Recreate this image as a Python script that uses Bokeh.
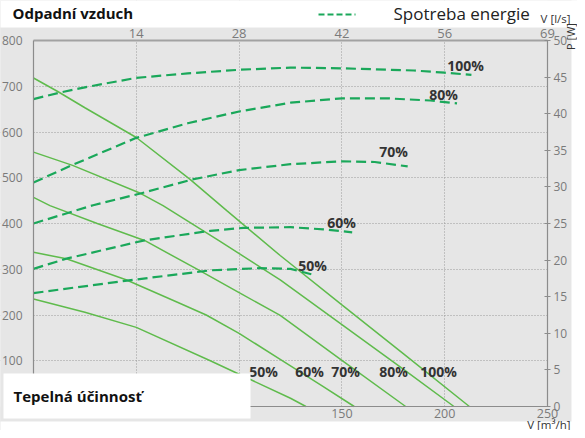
import math
from bokeh.plotting import figure
from bokeh.models import Range1d, LinearAxis, FixedTicker, Label, BoxAnnotation, Arrow
from bokeh.embed import file_html
from bokeh.resources import INLINE

# ---- data: fan pressure curves (Pa) vs airflow (m3/h) ----
s100_x = [0, 12, 25, 50, 76, 94, 120, 150, 180, 212]
s100_y = [718, 688, 653, 588, 497, 428, 330, 222, 115, 0]
s80_x = [0, 19, 52, 63, 90, 120, 150, 180, 204.5]
s80_y = [556, 527, 466, 439, 363, 277, 179, 81, 0]
s70_x = [0, 8, 31, 54, 80, 100, 120, 150, 181]
s70_y = [457, 439, 400, 363, 299, 249, 199, 101, 0]
s60_x = [0, 16, 45, 70, 84, 100, 120, 140, 156]
s60_y = [337, 323, 277, 228, 200, 160, 103, 46, 0]
s50_x = [0, 25, 50, 86, 105, 125, 132.5]
s50_y = [235, 206, 173, 100, 60, 18, 0]

# ---- data: power consumption (W) vs airflow (m3/h) ----
d100_x = [0, 13, 25, 50, 75, 100, 125, 150, 185, 200, 213]
d100_y = [42.0, 42.9, 43.6, 44.9, 45.5, 46.0, 46.3, 46.2, 45.9, 45.6, 45.3]
d80_x = [0, 19, 50, 75, 100, 125, 150, 172, 193, 206]
d80_y = [30.6, 33.0, 36.7, 38.7, 40.3, 41.5, 42.1, 42.1, 41.8, 41.4]
d70_x = [0, 29, 52, 77, 100, 125, 150, 166, 182]
d70_y = [25.0, 27.5, 29.1, 31.0, 32.3, 33.1, 33.5, 33.4, 32.8]
d60_x = [0, 16, 54, 86, 102, 125, 141, 155]
d60_y = [18.8, 20.2, 22.7, 24.0, 24.4, 24.5, 24.2, 23.8]
d50_x = [0, 45.5, 86, 110, 125, 136]
d50_y = [15.5, 17.2, 18.6, 18.9, 18.8, 18.0]

speed_labels = ["50%", "60%", "70%", "80%", "100%"]
power_labels = ["100%", "80%", "70%", "60%", "50%"]
bottom_ticks = [0, 50, 100, 150, 200, 250]
top_tick_labels = ["14", "28", "42", "56", "69"]
left_ticks = [0, 100, 200, 300, 400, 500, 600, 700, 800]
right_ticks = [0, 5, 10, 15, 20, 25, 30, 35, 40, 45, 50]

# ---- layout geometry (canvas pixels) ----
W, H = 577, 430
L, R, T, B = 33, 547, 40, 406
XMAX, YMAX, WMAX = 250, 800, 50
SX = (R - L) / XMAX
SY = (B - T) / YMAX
SW = (B - T) / WMAX


def dx(cx):
    return (cx - L) / SX


def dy(cy):
    return (B - cy) / SY


def dw(cy):
    return (B - cy) / SW


GRAY = "#e6e6e6"
SOLID = "#5fbb4c"
DASH = "#1aa85a"
TICKC = "#7a7a7a"
AXC = "#8c8c8c"
FONT = "Open Sans"

p = figure(width=W, height=H,
           x_range=Range1d(dx(0), dx(W)), y_range=Range1d(dy(H), dy(0)),
           output_backend="svg", toolbar_location=None,
           min_border_left=0, min_border_right=0, min_border_top=0, min_border_bottom=0,
           background_fill_color=GRAY, border_fill_color=GRAY, outline_line_color=None)
p.title.visible = False
p.extra_y_ranges = {"w": Range1d(dw(H), dw(0))}


def style_axis(ax, size, standoff, tin=0, tout=0, lw=1.2, lc=AXC):
    ax.major_tick_in = tin
    ax.major_tick_out = tout
    ax.major_tick_line_color = lc
    ax.minor_tick_line_color = None
    ax.axis_line_color = lc
    ax.axis_line_width = lw
    ax.major_label_text_font = FONT
    ax.major_label_text_font_size = size
    ax.major_label_text_color = TICKC
    ax.major_label_standoff = standoff


# bottom axis (m3/h)
xa = p.xaxis[0]
xa.ticker = FixedTicker(ticks=bottom_ticks)
xa.fixed_location = 0
xa.bounds = (0, XMAX)
style_axis(xa, "12.5px", 2)

# left axis (Pa)
ya = p.yaxis[0]
ya.ticker = FixedTicker(ticks=left_ticks)
ya.fixed_location = 0
ya.bounds = (0, YMAX)
style_axis(ya, "12px", 11)

# top axis (l/s)
ta = LinearAxis(ticker=FixedTicker(ticks=bottom_ticks[1:]),
                major_label_overrides={t: s for t, s in zip(bottom_ticks[1:], top_tick_labels)},
                fixed_location=YMAX, bounds=(0, XMAX))
style_axis(ta, "13px", 3, lw=2, lc="#a2a2a2")
p.add_layout(ta, "above")

# right axis (W)
ra = LinearAxis(y_range_name="w", ticker=FixedTicker(ticks=right_ticks),
                fixed_location=XMAX, bounds=(0, WMAX))
style_axis(ra, "12px", 3, tin=3, tout=3)
p.add_layout(ra, "right")

# grids
p.xgrid.ticker = FixedTicker(ticks=[50, 100, 150, 200])
p.ygrid.ticker = FixedTicker(ticks=[100, 200, 300, 400, 500, 600, 700])
for g in (p.xgrid, p.ygrid):
    g.grid_line_color = "#9a9a9a"
    g.grid_line_dash = "1 2"
    g.grid_line_width = 1

# gray masks: keep grid lines inside the chart area
BIG = 5000
for l, r, b, t in ((-BIG, 0, -BIG, BIG), (XMAX, BIG, -BIG, BIG),
                   (-BIG, BIG, YMAX, BIG), (-BIG, BIG, -BIG, 0)):
    p.add_layout(BoxAnnotation(left=l, right=r, bottom=b, top=t, fill_color=GRAY,
                               fill_alpha=1.0, line_color=None, level="underlay"))

# solid pressure curves
for xs, ys in ((s100_x, s100_y), (s80_x, s80_y), (s70_x, s70_y), (s60_x, s60_y), (s50_x, s50_y)):
    p.line(xs, ys, line_color=SOLID, line_width=1.5)

# dashed power curves
for xs, ys in ((d100_x, d100_y), (d80_x, d80_y), (d70_x, d70_y), (d60_x, d60_y), (d50_x, d50_y)):
    p.line(xs, ys, y_range_name="w", line_color=DASH, line_width=2.2, line_dash="10 5")

# percentage labels on power curves (canvas anchors)
pw_anchor = [(465, 65), (443, 94), (393, 151), (341, 222), (312, 265)]
for t, (cx, cy) in zip(power_labels, pw_anchor):
    p.add_layout(Label(x=dx(cx), y=dw(cy), y_range_name="w", text=t, text_align="center",
                       text_baseline="middle", text_font=FONT, text_font_size="14px",
                       text_font_style="bold", text_color="#333333"))
# percentage labels at bottom of pressure curves
bot_anchor_x = [263, 309, 345, 393, 438]
for t, cx in zip(speed_labels, bot_anchor_x):
    p.add_layout(Label(x=dx(cx), y=dy(371), text=t, text_align="center", text_baseline="middle",
                       text_font=FONT, text_font_size="14px", text_font_style="bold",
                       text_color="#333333"))


# white areas around the gray chart panel
def wbox(l, r, b, t):
    p.add_layout(BoxAnnotation(left=l, right=r, bottom=b, top=t, fill_color="white",
                               fill_alpha=1.0, line_color=None))


wbox(dx(-50), dx(W + 50), dy(27), dy(-50))        # top strip
wbox(dx(-50), dx(W + 50), dy(H + 50), dy(421))    # bottom strip
wbox(dx(571), dx(W + 50), dy(H + 50), dy(-50))    # right strip
wbox(dx(3), dx(250), dy(418), dy(373))            # efficiency box


def lab(cx, cy, text, size, style="normal", color="#222222", align="left", angle=0.0):
    p.add_layout(Label(x=dx(cx), y=dy(cy), text=text, text_font=FONT, text_font_size=size,
                       text_font_style=style, text_color=color, text_align=align,
                       text_baseline="middle", angle=angle))


lab(12, 12, "Odpadní vzduch", "15px", "bold", "#111111")
lab(13, 395, "Tepelná účinnosť", "15px", "bold", "#111111")
lab(570, 18, "V [l/s]", "11.5px", color="#333333", align="right")
lab(570, 423.5, "V [m³/h]", "11.5px", color="#333333", align="right")
lab(570, 36, "P [W]", "11px", color="#333333", align="center", angle=math.pi / 2)
lab(393, 13, "Spotreba energie", "17px", color="#222222")
p.add_layout(Arrow(end=None, x_start=dx(318), y_start=dy(14), x_end=dx(355), y_end=dy(14),
                   line_color=DASH, line_width=2, line_dash="6 3"))

open("out.html", "w").write(file_html(p, INLINE))
